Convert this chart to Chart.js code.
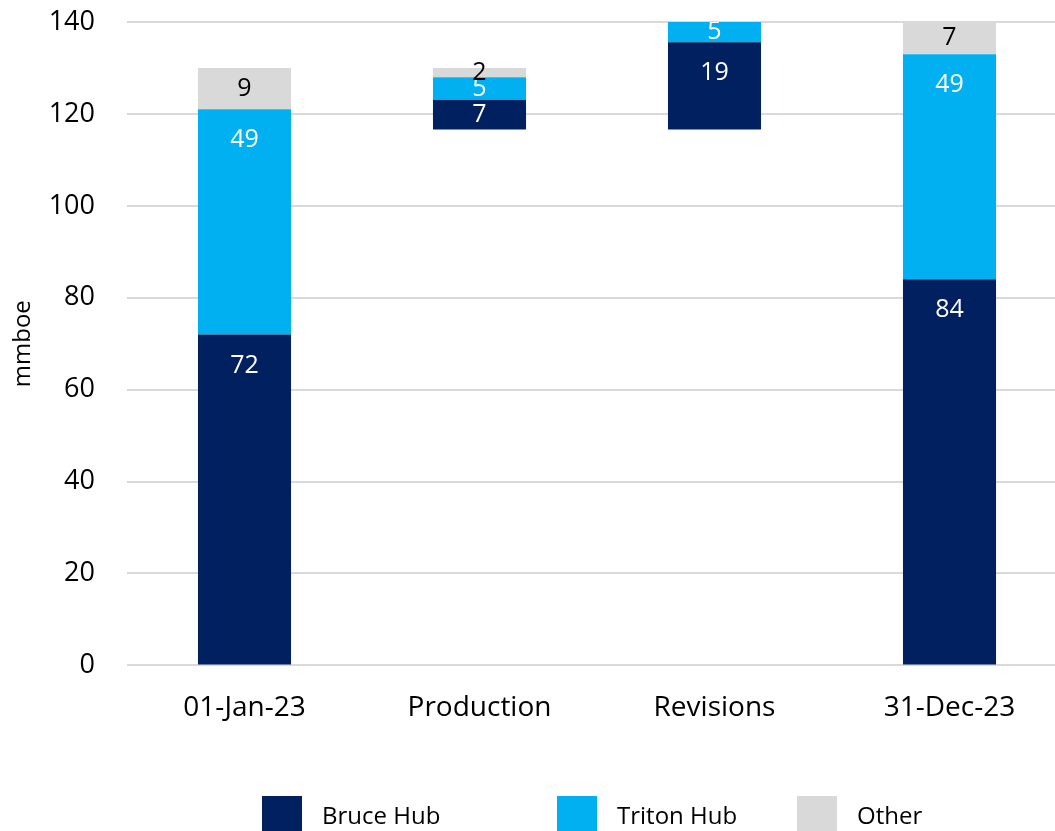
<!DOCTYPE html>
<html>
<head>
<meta charset="utf-8">
<script src="https://cdn.jsdelivr.net/npm/chart.js@4/dist/chart.umd.min.js"></script>
<style>
  html, body { margin: 0; padding: 0; background: #fff; overflow: hidden; }
  #wrap { position: relative; width: 1067px; height: 831px; }
</style>
</head>
<body>
<div id="wrap"><canvas id="reservesChart"></canvas></div>
<script>
// 数据
const categories = ['01-Jan-23', 'Production', 'Revisions', '31-Dec-23'];
const seriesNames = ['Bruce Hub', 'Triton Hub', 'Other'];
const baseValues = [0, 116.6, 116.6, 0];      // 透明底座（瀑布图）
const bruceValues = [72, 6.5, 19, 84];
const tritonValues = [49, 4.9, 5, 49];
const otherValues = [9, 2.0, 0, 7];
const yTicks = [0, 20, 40, 60, 80, 100, 120, 140];

const colors = ['#002060', '#00B0F0', '#D9D9D9'];
const labelColors = ['#ffffff', '#ffffff', '#000000'];
const FONT = "'Open Sans', 'Noto Sans', sans-serif";

// 数据标签
const valueLabels = {
  id: 'valueLabels',
  afterDatasetsDraw(chart) {
    const ctx = chart.ctx;
    const area = chart.chartArea;
    ctx.save();
    ctx.beginPath();
    ctx.rect(area.left, area.top, area.right - area.left, area.bottom - area.top);
    ctx.clip();
    ctx.font = '25px ' + FONT;
    ctx.textAlign = 'center';
    ctx.textBaseline = 'middle';
    chart.data.datasets.forEach((ds, di) => {
      if (ds.seriesIndex === undefined) return;
      chart.getDatasetMeta(di).data.forEach((bar, i) => {
        const v = ds.data[i];
        if (!v) return;
        const top = Math.max(bar.y, area.top);
        const bottom = Math.min(bar.base, area.bottom);
        const y = Math.min(top + 31, (top + bottom) / 2);
        ctx.fillStyle = labelColors[ds.seriesIndex];
        ctx.fillText(Math.round(v).toString(), bar.x, y);
      });
    });
    ctx.restore();
  }
};

// 底部图例
const legendX = [262, 557, 797];
const bottomLegend = {
  id: 'bottomLegend',
  afterDraw(chart) {
    const ctx = chart.ctx;
    ctx.save();
    ctx.font = '24px ' + FONT;
    ctx.textBaseline = 'middle';
    ctx.textAlign = 'left';
    seriesNames.forEach((name, i) => {
      ctx.fillStyle = colors[i];
      ctx.fillRect(legendX[i], 796, 40, 40);
      ctx.fillStyle = '#000';
      ctx.fillText(name, legendX[i] + 60, 817);
    });
    ctx.restore();
  }
};

const seriesData = [bruceValues, tritonValues, otherValues];
const datasets = [{
  label: '',
  data: baseValues,
  backgroundColor: 'rgba(0,0,0,0)'
}].concat(seriesNames.map((name, i) => ({
  label: name,
  seriesIndex: i,
  data: seriesData[i],
  backgroundColor: colors[i]
})));

const ctx = document.getElementById('reservesChart').getContext('2d');
const chart = new Chart(ctx, {
  type: 'bar',
  data: { labels: categories, datasets: datasets },
  options: {
    responsive: true,
    maintainAspectRatio: false,
    animation: false,
    datasets: {
      bar: { categoryPercentage: 1, barPercentage: 0.396 }
    },
    layout: { padding: { top: 22, right: 0, bottom: 80, left: 0 } },
    plugins: {
      legend: { display: false },
      tooltip: { enabled: false }
    },
    scales: {
      x: {
        stacked: true,
        grid: { display: false, drawTicks: false },
        border: { display: false },
        ticks: { color: '#000', padding: 26, font: { size: 28, family: FONT } }
      },
      y: {
        stacked: true,
        min: 0,
        max: 140,
        afterBuildTicks(scale) { scale.ticks = yTicks.map(v => ({ value: v })); },
        afterFit(scale) { scale.width = 127; scale.paddingTop = 0; scale.paddingBottom = 0; },
        grid: { color: '#D9D9D9', lineWidth: 2, drawTicks: false },
        border: { display: false },
        ticks: { color: '#000', padding: 32, font: { size: 27, family: FONT } },
        title: {
          display: true,
          text: 'mmboe',
          color: '#000',
          padding: { top: 9, bottom: 0 },
          font: { size: 24, family: FONT }
        }
      }
    }
  },
  plugins: [valueLabels, bottomLegend]
});
</script>
</body>
</html>
